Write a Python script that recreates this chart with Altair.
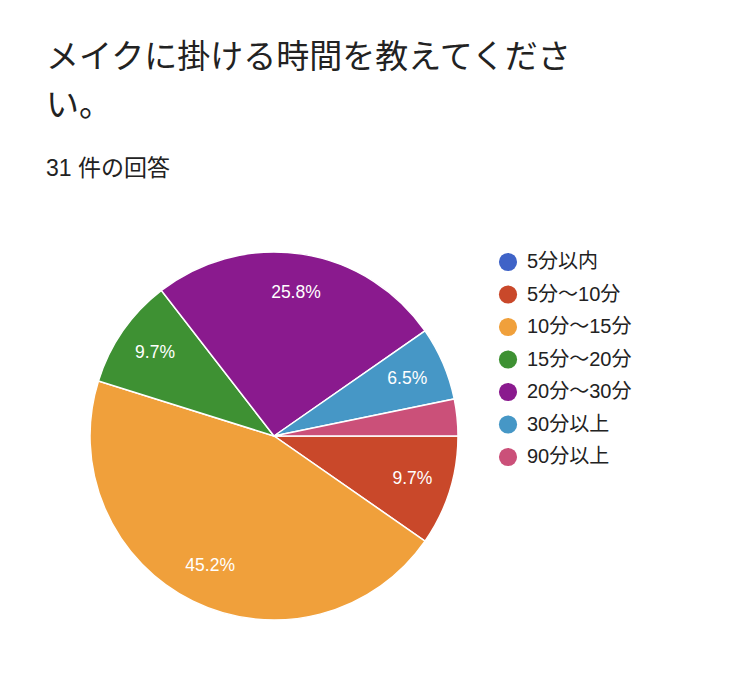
import math
import altair as alt
import pandas as pd

categories = ["5分以内", "5分〜10分", "10分〜15分", "15分〜20分", "20分〜30分", "30分以上", "90分以上"]
counts = [0, 3, 14, 3, 8, 2, 1]
colors = ["#3f63c7", "#c9482a", "#f0a03b", "#3e9133", "#8a1a8e", "#4697c6", "#cb5079"]
title_lines = ["メイクに掛ける時間を教えてくださ", "い。"]
subtitle = "31 件の回答"

FONT = '"Liberation Sans", "Noto Sans CJK JP", sans-serif'

df = pd.DataFrame({"category": categories, "count": counts, "order": list(range(len(categories)))})

TOP = 195
CX, CY, R = 274, 436 - TOP, 184

color_scale = alt.Scale(domain=categories, range=colors)
theta_enc = alt.Theta("count:Q", stack=True,
                      scale=alt.Scale(range=[math.pi / 2, math.pi / 2 + 2 * math.pi]))

base = alt.Chart(df).transform_filter("datum.count > 0").transform_joinaggregate(
    total="sum(count)"
).transform_calculate(
    label="datum.count / datum.total >= 0.05 ? format(datum.count / datum.total * 100, '.1f') + '%' : ''",
).encode(
    theta=theta_enc,
    order=alt.Order("order:Q", sort="ascending"),
)

arcs = base.mark_arc(outerRadius=R, stroke="white", strokeWidth=1.5).encode(
    x=alt.value(CX),
    y=alt.value(CY),
    color=alt.Color(
        "category:N",
        scale=color_scale,
        sort=categories,
        legend=alt.Legend(
            title=None,
            orient="none",
            legendX=498,
            legendY=263 - 11 - TOP,
            symbolType="circle",
            symbolSize=330,
            symbolStrokeWidth=0,
            symbolOpacity=1,
            labelFontSize=20,
            labelFont=FONT,
            labelColor="#222222",
            labelOffset=9,
            rowPadding=12.5,
            padding=0,
        ),
    ),
)

labels = base.mark_text(radius=145, fontSize=17.5, font=FONT, color="white").encode(
    x=alt.value(CX),
    y=alt.value(CY),
    text="label:N",
)

chart = alt.layer(arcs, labels).properties(
    width=750,
    height=678 - TOP,
    padding={"left": 0, "top": TOP, "right": 0, "bottom": 0},
    autosize=alt.AutoSizeParams(type="none"),
    background="white",
    title=alt.TitleParams(
        text=title_lines,
        subtitle=subtitle,
        anchor="start",
        frame="group",
        orient="top",
        dx=46,
        offset=14,
        fontSize=33,
        lineHeight=48,
        font=FONT,
        fontWeight="normal",
        color="#222222",
        subtitleFont=FONT,
        subtitleFontSize=23,
        subtitleColor="#222222",
        subtitlePadding=35,
    ),
).configure_view(strokeWidth=0, stroke="transparent")

chart.save("out.html", embed_options={"renderer": "svg", "actions": False})
